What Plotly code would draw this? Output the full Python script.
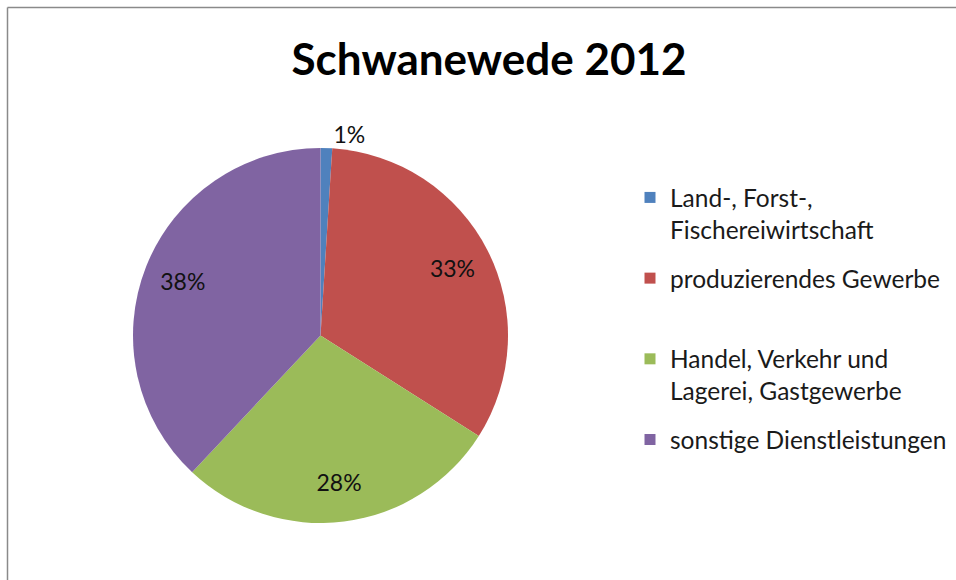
import plotly.graph_objects as go

# Sector shares of employment, Schwanewede 2012 (percent)
sectors = [
    "Land-, Forst-,<br>Fischereiwirtschaft",
    "produzierendes Gewerbe<br> ",
    "Handel, Verkehr und<br>Lagerei, Gastgewerbe",
    "sonstige Dienstleistungen",
]
shares = [1, 33, 28, 38]
colors = ["#4F81BD", "#C0504D", "#9BBB59", "#8064A2"]
label_pos = ["outside", "inside", "inside", "inside"]

W, H = 956, 580
pie_domain = dict(x=[133 / W, 508 / W], y=[1 - 523 / H, 1 - 148 / H])
label_font = dict(family="Lato", size=23, color="#111111")

fig = go.Figure()

# Coloured slices
fig.add_trace(
    go.Pie(
        labels=sectors,
        values=shares,
        sort=False,
        direction="clockwise",
        rotation=0,
        marker=dict(colors=colors, line=dict(width=0)),
        textinfo="none",
        domain=pie_domain,
        hoverinfo="label+percent",
        showlegend=False,
    )
)

# Transparent ring over the slices carrying the percentage labels,
# so they sit towards the rim of each slice
fig.add_trace(
    go.Pie(
        labels=sectors,
        values=shares,
        sort=False,
        direction="clockwise",
        rotation=0,
        hole=0.58,
        marker=dict(colors=["rgba(0,0,0,0)"] * len(shares), line=dict(width=0)),
        texttemplate="%{value}%",
        textposition=label_pos,
        insidetextorientation="horizontal",
        textfont=label_font,
        insidetextfont=label_font,
        outsidetextfont=label_font,
        domain=pie_domain,
        hoverinfo="skip",
        showlegend=False,
    )
)

# Legend entries, one group per sector so the rows are evenly spaced
for name, col in zip(sectors, colors):
    fig.add_trace(
        go.Scatter(
            x=[None],
            y=[None],
            mode="markers",
            name=name,
            legendgroup=name,
            marker=dict(symbol="square", size=11, color=col),
            showlegend=True,
        )
    )

fig.update_layout(
    width=W,
    height=H,
    margin=dict(l=0, r=0, t=0, b=0),
    paper_bgcolor="white",
    plot_bgcolor="rgba(0,0,0,0)",
    xaxis=dict(visible=False),
    yaxis=dict(visible=False),
    title=dict(
        text="<b>Schwanewede 2012</b>",
        x=489 / W,
        xanchor="center",
        y=1 - 60 / H,
        yanchor="middle",
        font=dict(family="Lato", size=44, color="#000000"),
    ),
    legend=dict(
        x=630 / W,
        xanchor="left",
        y=1 - 175 / H,
        yanchor="top",
        valign="top",
        font=dict(family="Lato", size=24.5, color="#1a1a1a"),
        itemsizing="trace",
        traceorder="grouped",
        tracegroupgap=14,
        bgcolor="rgba(0,0,0,0)",
    ),
    shapes=[
        dict(type="line", xref="paper", yref="paper",
             x0=7.5 / W, x1=1.0, y0=1 - 7.5 / H, y1=1 - 7.5 / H,
             line=dict(color="#8a8a8a", width=1.5)),
        dict(type="line", xref="paper", yref="paper",
             x0=7.5 / W, x1=7.5 / W, y0=0, y1=1 - 7.5 / H,
             line=dict(color="#8a8a8a", width=1.5)),
    ],
)

fig.write_html("out.html")
